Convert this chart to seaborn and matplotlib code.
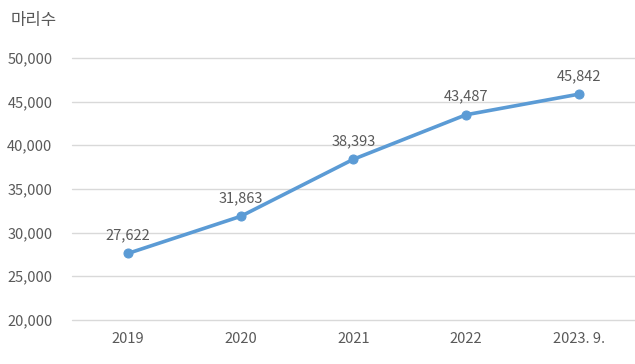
import matplotlib
matplotlib.use("Agg")
import matplotlib.pyplot as plt
import seaborn as sns
import pandas as pd

# data
years = ["2019", "2020", "2021", "2022", "2023. 9."]
counts = [27622, 31863, 38393, 43487, 45842]
y_ticks = [20000, 25000, 30000, 35000, 40000, 45000, 50000]

sns.set_style("white")
plt.rcParams["font.family"] = ["Noto Sans CJK KR", "DejaVu Sans"]

df = pd.DataFrame({"year": years, "count": counts})

fig = plt.figure(figsize=(6.35, 3.64), dpi=100)
ax = fig.add_axes([0.113, 0.121, 0.887, 0.72])

line_color = "#5B9BD5"
text_color = "#595959"

sns.lineplot(data=df, x="year", y="count", ax=ax, color=line_color,
             linewidth=2.6, marker="o", markersize=6.5,
             markeredgecolor=line_color, sort=False)

for i, v in enumerate(counts):
    ax.annotate(f"{v:,}", (i, v), xytext=(0, 8), textcoords="offset points",
                ha="center", va="bottom", fontsize=10.5, color=text_color)

ax.set_xlim(-0.5, 4.5)
ax.set_ylim(20000, 50000)
ax.set_yticks(y_ticks)
ax.set_yticklabels([f"{t:,}" for t in y_ticks])
ax.yaxis.grid(True, color="#D9D9D9", linewidth=1)
for gl in ax.get_ygridlines():
    gl.set_clip_on(False)
ax.set_axisbelow(True)
for s in ax.spines.values():
    s.set_visible(False)
ax.tick_params(axis="both", length=0, labelsize=10.5, labelcolor=text_color)
ax.tick_params(axis="y", pad=14)
ax.tick_params(axis="x", pad=9)
ax.set_xlabel("")
ax.set_ylabel("")

fig.text(0.016, 0.945, "마리수", fontsize=12, color=text_color, ha="left", va="center")

fig.savefig("out.png", dpi=100)
